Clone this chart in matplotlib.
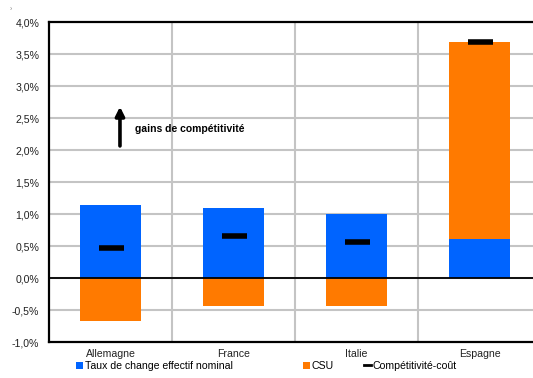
import numpy as np
import matplotlib
matplotlib.use("Agg")
import matplotlib.pyplot as plt
from matplotlib.ticker import FuncFormatter, MultipleLocator
from matplotlib.lines import Line2D
from matplotlib.patches import Patch

plt.rcParams['font.family'] = ['Liberation Sans', 'DejaVu Sans']

pays = ['Allemagne', 'France', 'Italie', 'Espagne']
tcen = [1.14, 1.09, 1.00, 0.61]        # taux de change effectif nominal
csu = [-0.67, -0.44, -0.44, 3.08]      # coûts salariaux unitaires
competitivite = [0.47, 0.65, 0.57, 3.68]

blue = '#0064FF'
orange = '#FF7A00'
grid_col = '#C4C4C4'

fig = plt.figure(figsize=(5.33, 3.78), dpi=100)
ax = fig.add_axes([49 / 533, 1 - 342 / 378, (541 - 49) / 533, 320 / 378])

x = np.arange(len(pays))
# empilement : CSU positif au-dessus du TCEN, négatif sous zéro
bottoms = [t if c >= 0 else 0 for t, c in zip(tcen, csu)]
ax.bar(x, tcen, width=0.5, color=blue, zorder=2)
ax.bar(x, csu, width=0.5, bottom=bottoms, color=orange, zorder=2)
ax.plot(x, competitivite, linestyle='none', marker='_', markersize=18,
        markeredgewidth=4, color='black', zorder=4)

ax.set_xlim(-0.5, 3.5)
ax.set_ylim(-1.0, 4.0)
ax.yaxis.set_major_locator(MultipleLocator(0.5))
ax.yaxis.set_major_formatter(FuncFormatter(lambda v, p: f'{v:.1f}%'.replace('.', ',')))
ax.set_xticks(x)
ax.set_xticklabels(pays)
ax.tick_params(axis='both', length=0, labelsize=7.6, colors='#222222')
ax.tick_params(axis='y', pad=7)
ax.tick_params(axis='x', pad=5)

ax.grid(False)
for yv in np.arange(-0.5, 4.0, 0.5):
    ax.axhline(yv, color=grid_col, lw=1.5, zorder=1)
for xv in [0.5, 1.5, 2.5]:
    ax.axvline(xv, color=grid_col, lw=1.5, zorder=1)
ax.axhline(0, color='black', lw=1.3, zorder=3)

for side in ['left', 'top', 'bottom']:
    ax.spines[side].set_linewidth(1.6)
ax.spines['right'].set_visible(False)

ax.annotate('', xy=(0.077, 2.72), xytext=(0.077, 2.02),
            arrowprops=dict(arrowstyle='-|>', color='black', lw=2.6,
                            mutation_scale=13), zorder=5)
ax.text(0.2, 2.33, 'gains de compétitivité', fontsize=7.5,
        fontweight='bold', va='center', ha='left', zorder=5)

# légende : trois entrées placées séparément
entries = [
    (Patch(facecolor=blue), 'Taux de change effectif nominal', 76),
    (Patch(facecolor=orange), 'CSU', 303),
    (Line2D([0], [0], color='black', lw=2), 'Compétitivité-coût', 364),
]
for handle, label, xpix in entries:
    fig.legend([handle], [label], loc='center left',
               bbox_to_anchor=(xpix / 533, 1 - 366 / 378), frameon=False,
               fontsize=7.6, handlelength=0.7, handleheight=0.7,
               handletextpad=0.15, borderpad=0, borderaxespad=0)

fig.text(11 / 533, 1 - 9 / 378, '›', fontsize=5, color='#888888',
         ha='center', va='center')

fig.savefig('out.png', dpi=100)
